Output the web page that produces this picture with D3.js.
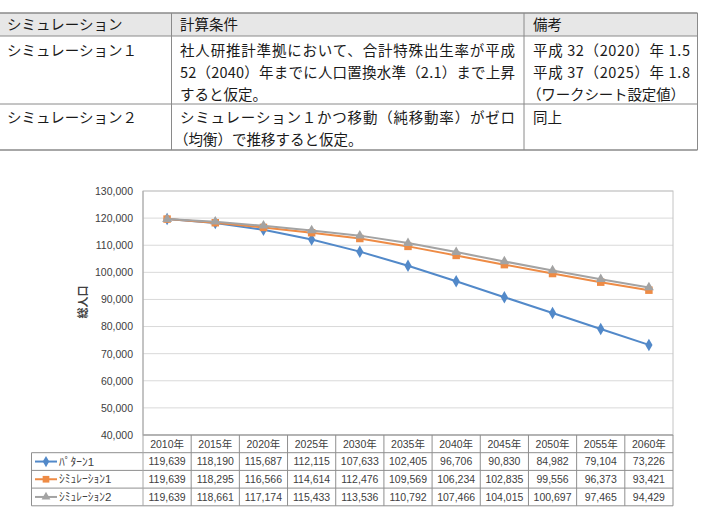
<!DOCTYPE html>
<html>
<head>
<meta charset="utf-8">
<script src="https://cdn.jsdelivr.net/npm/d3@7"></script>
<style>
body { margin: 0; background: #fff; }
svg { display: block; }
.tbl text { font-family: "Noto Sans CJK JP", sans-serif; font-size: 14.5px; fill: #1a1a1a; }
.chart text { font-family: "Liberation Sans", "Noto Sans CJK JP", sans-serif; font-size: 10.5px; fill: #404040; }
</style>
</head>
<body>
<div id="vis"></div>
<script>
// chart values
const YEARS = ["2010年", "2015年", "2020年", "2025年", "2030年", "2035年", "2040年", "2045年", "2050年", "2055年", "2060年"];
const PATTERN1 = [119639, 118190, 115687, 112115, 107633, 102405, 96706, 90830, 84982, 79104, 73226];
const SIM1 = [119639, 118295, 116566, 114614, 112476, 109569, 106234, 102835, 99556, 96373, 93421];
const SIM2 = [119639, 118661, 117174, 115433, 113536, 110792, 107466, 104015, 100697, 97465, 94429];
const SERIES_NAMES = ["ﾊﾟﾀｰﾝ1", "ｼﾐｭﾚｰｼｮﾝ1", "ｼﾐｭﾚｰｼｮﾝ2"];
const Y_TICKS = [40000, 50000, 60000, 70000, 80000, 90000, 100000, 110000, 120000, 130000];
const Y_TITLE = "総人口";

// text table above the chart
const TABLE_HEAD = ["シミュレーション", "計算条件", "備考"];
const ROW1 = [
    ["シミュレーション１"],
    ["社人研推計準拠において、合計特殊出生率が平成", "52（2040）年までに人口置換水準（2.1）まで上昇", "すると仮定。"],
    ["平成 32（2020）年 1.5", "平成 37（2025）年 1.8", "（ワークシート設定値）"]
];
const ROW2 = [
    ["シミュレーション２"],
    ["シミュレーション１かつ移動（純移動率）がゼロ", "（均衡）で推移すると仮定。"],
    ["同上"]
];

const WIDTH = 701, HEIGHT = 513;
const COLS_X = [0, 171.5, 524, 697.5];
const ROWS_Y = [13, 36, 104, 150];
const LINE_H = 21.7;
const TEXT_X = [7, 180, 533];
// widths that the justified lines are stretched to (null = natural)
const FIT1 = [[null], [335, 335, null], [157, 157, 158]];
const FIT2 = [[null], [335, null], [null]];

const SVG = d3.select("#vis")
    .append("svg")
    .attr("width", WIDTH)
    .attr("height", HEIGHT);

// ---------- top table ----------
const TBL = SVG.append("g").attr("class", "tbl");

TBL.append("rect")
    .attr("x", COLS_X[0]).attr("y", ROWS_Y[0])
    .attr("width", COLS_X[3] - COLS_X[0]).attr("height", ROWS_Y[1] - ROWS_Y[0])
    .attr("fill", "#e7e7e7");

// horizontal rules
TBL.selectAll("hrule")
    .data(ROWS_Y)
    .enter()
    .append("line")
    .attr("x1", COLS_X[0]).attr("x2", COLS_X[3])
    .attr("y1", (d) => d).attr("y2", (d) => d)
    .attr("stroke", "#8a8a8a")
    .attr("stroke-width", (d, i) => (i == 0 || i == ROWS_Y.length - 1) ? 1.5 : 1);

// vertical rules (no outer left rule)
TBL.selectAll("vrule")
    .data(COLS_X.slice(1))
    .enter()
    .append("line")
    .attr("x1", (d) => d).attr("x2", (d) => d)
    .attr("y1", ROWS_Y[0]).attr("y2", ROWS_Y[3])
    .attr("stroke", "#8a8a8a")
    .attr("stroke-width", 1);

function cellText(lines, col, firstCenter, fits) {
    lines.forEach((t, i) => {
        // opening full-width paren carries blank space on its left; pull it in
        const shift = t.startsWith("（") ? -6 : 0;
        const txt = TBL.append("text")
            .attr("x", TEXT_X[col] + shift)
            .attr("y", firstCenter + i * LINE_H)
            .attr("dy", "0.36em")
            .text(t);
        if (fits && fits[i]) {
            txt.attr("textLength", fits[i]).attr("lengthAdjust", "spacing");
        }
    });
}

TABLE_HEAD.forEach((t, i) => cellText([t], i, 25, null));
ROW1.forEach((lines, i) => cellText(lines, i, 51, FIT1[i]));
ROW2.forEach((lines, i) => cellText(lines, i, 118, FIT2[i]));

// ---------- chart ----------
const PLOT = {left: 143, right: 673, top: 191, bottom: 435};
const CHART = SVG.append("g").attr("class", "chart");

const X_SCALE = d3.scaleBand()
    .domain(YEARS)
    .range([PLOT.left, PLOT.right]);
const Y_SCALE = d3.scaleLinear()
    .domain([40000, 130000])
    .range([PLOT.bottom, PLOT.top]);

// gridlines
CHART.selectAll("grid")
    .data(Y_TICKS)
    .enter()
    .append("line")
    .attr("x1", PLOT.left).attr("x2", PLOT.right)
    .attr("y1", (d) => Y_SCALE(d)).attr("y2", (d) => Y_SCALE(d))
    .attr("stroke", "#d9d9d9")
    .attr("stroke-width", 1);

// plot border
CHART.append("rect")
    .attr("x", PLOT.left).attr("y", PLOT.top)
    .attr("width", PLOT.right - PLOT.left).attr("height", PLOT.bottom - PLOT.top)
    .attr("fill", "none")
    .attr("stroke", "#c4c4c4")
    .attr("stroke-width", 1);

// y axis
const Y_AXIS = CHART.append("g")
    .attr("transform", "translate(" + PLOT.left + ",0)")
    .call(d3.axisLeft(Y_SCALE).tickValues(Y_TICKS).tickFormat(d3.format(",")).tickSize(0).tickPadding(10));
Y_AXIS.select(".domain").remove();
Y_AXIS.selectAll("text")
    .attr("font-family", null).attr("font-size", null)
    .style("fill", "#404040");

CHART.append("text")
    .attr("transform", "translate(83,302) rotate(-90)")
    .attr("text-anchor", "middle")
    .attr("dy", "0.36em")
    .style("font-size", "11px")
    .style("font-weight", "bold")
    .text(Y_TITLE);

// series
const SERIES = [
    {name: SERIES_NAMES[0], values: PATTERN1, color: "#5289c9", symbol: d3.symbolDiamond, size: 45},
    {name: SERIES_NAMES[1], values: SIM1, color: "#ee8b45", symbol: d3.symbolSquare, size: 56},
    {name: SERIES_NAMES[2], values: SIM2, color: "#a3a3a3", symbol: d3.symbolTriangle, size: 42}
];

const XC = (i) => X_SCALE(YEARS[i]) + X_SCALE.bandwidth() / 2;
const LINE = d3.line()
    .x((d, i) => XC(i))
    .y((d) => Y_SCALE(d));

SERIES.forEach((s) => {
    CHART.append("path")
        .datum(s.values)
        .attr("d", LINE)
        .attr("fill", "none")
        .attr("stroke", s.color)
        .attr("stroke-width", 2);
    CHART.selectAll("pts")
        .data(s.values)
        .enter()
        .append("path")
        .attr("transform", (d, i) => "translate(" + XC(i) + "," + Y_SCALE(d) + ")")
        .attr("d", d3.symbol().type(s.symbol).size(s.size))
        .attr("fill", s.color);
});

// ---------- data table under the chart ----------
const TBL_LEFT = 31.5;
const ROW_H = 17.7;
const T_TOP = PLOT.bottom;
const T_BOTTOM = T_TOP + ROW_H * 4;
const GRID_C = "#8f8f8f";

// horizontal lines
[0, 1, 2, 3, 4].forEach((r) => {
    CHART.append("line")
        .attr("x1", r == 0 ? PLOT.left : TBL_LEFT).attr("x2", PLOT.right)
        .attr("y1", T_TOP + r * ROW_H).attr("y2", T_TOP + r * ROW_H)
        .attr("stroke", GRID_C);
});
// vertical lines
CHART.append("line")
    .attr("x1", TBL_LEFT).attr("x2", TBL_LEFT)
    .attr("y1", T_TOP + ROW_H).attr("y2", T_BOTTOM)
    .attr("stroke", GRID_C);
CHART.append("line")
    .attr("x1", PLOT.left).attr("x2", PLOT.left)
    .attr("y1", PLOT.top).attr("y2", T_BOTTOM)
    .attr("stroke", "#a6a6a6");
YEARS.forEach((y) => {
    CHART.append("line")
        .attr("x1", X_SCALE(y) + X_SCALE.bandwidth()).attr("x2", X_SCALE(y) + X_SCALE.bandwidth())
        .attr("y1", T_TOP).attr("y2", T_BOTTOM)
        .attr("stroke", GRID_C);
});

// header cells
CHART.selectAll("yrs")
    .data(YEARS)
    .enter()
    .append("text")
    .attr("x", (d) => X_SCALE(d) + X_SCALE.bandwidth() / 2)
    .attr("y", T_TOP + ROW_H / 2)
    .attr("dy", "0.36em")
    .attr("text-anchor", "middle")
    .text((d) => d);

// value rows + legend keys
SERIES.forEach((s, r) => {
    const cy = T_TOP + ROW_H * (r + 1) + ROW_H / 2;
    CHART.selectAll("vals")
        .data(s.values)
        .enter()
        .append("text")
        .attr("x", (d, i) => XC(i))
        .attr("y", cy)
        .attr("dy", "0.36em")
        .attr("text-anchor", "middle")
        .text((d) => d3.format(",")(d));

    CHART.append("line")
        .attr("x1", 35).attr("x2", 57)
        .attr("y1", cy).attr("y2", cy)
        .attr("stroke", s.color)
        .attr("stroke-width", 2);
    CHART.append("path")
        .attr("transform", "translate(46," + cy + ")")
        .attr("d", d3.symbol().type(s.symbol).size(s.size * 0.8))
        .attr("fill", s.color);
    CHART.append("text")
        .attr("x", 59)
        .attr("y", cy)
        .attr("dy", "0.36em")
        .style("font-size", "11.5px")
        .text(s.name);
});
</script>
</body>
</html>
